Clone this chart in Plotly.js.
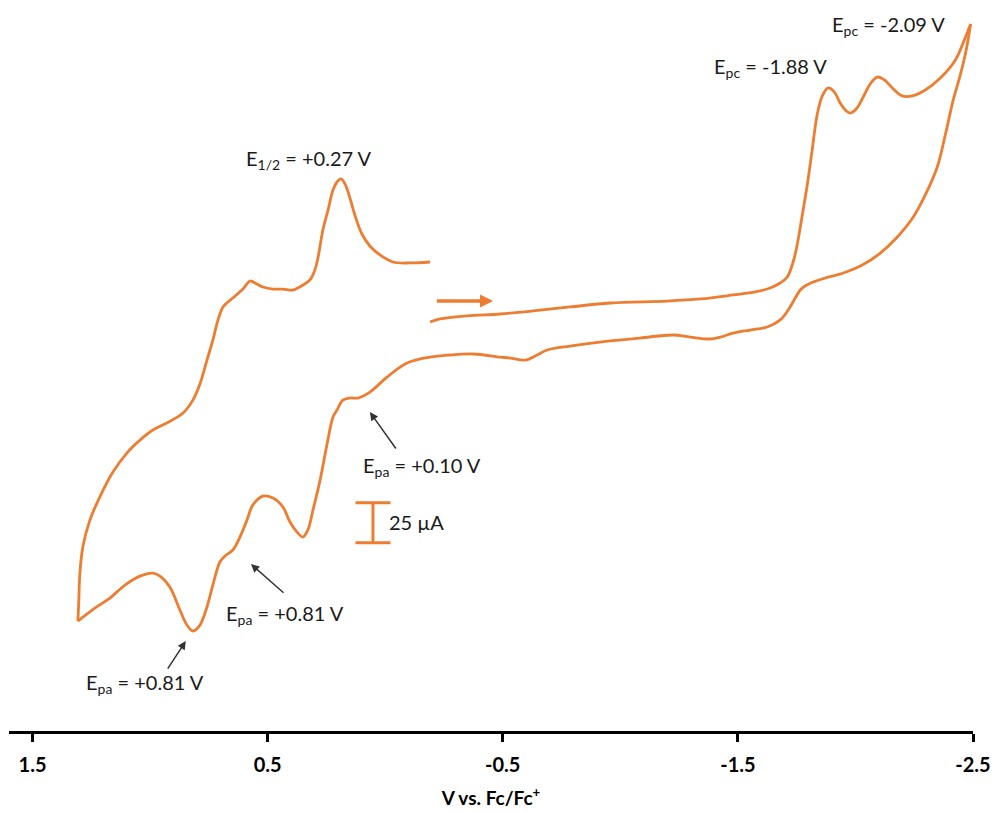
<!DOCTYPE html>
<html><head><meta charset="utf-8">
<script src="https://cdn.plot.ly/plotly-3.0.1.min.js"></script>
<style>body{margin:0;background:#fff}#chart{width:995px;height:813px}</style>
</head><body><div id="chart"></div>
<script>
// Potential (V vs. Fc/Fc+) and current (µA, arbitrary zero)
const forwardV = [-0.191,-0.233,-0.348,-0.489,-0.629,-0.786,-0.957,-1.199,-1.340,-1.480,-1.574,-1.637,-1.680,-1.710,-1.735,-1.752,-1.774,-1.795,-1.816,-1.837,-1.859,-1.884,-1.910,-1.935,-1.961,-1.978,-2.003,-2.033,-2.063,-2.093,-2.123,-2.157,-2.199,-2.242,-2.297,-2.361,-2.425,-2.463,-2.490];
const forwardI = [5.0,6.9,8.8,10.0,11.9,14.4,16.9,18.1,19.4,21.9,23.8,26.3,29.4,33.1,42.5,53.1,71.9,90.6,112.5,134.4,146.3,151.3,148.8,141.9,136.9,135.6,138.1,145.6,153.8,158.1,156.3,151.3,146.3,146.3,150.0,157.5,168.8,181.3,191.3];

const reverseV = [-2.471,-2.446,-2.416,-2.382,-2.348,-2.297,-2.246,-2.178,-2.106,-2.029,
 -1.948,-1.871,-1.820,-1.786,-1.765,-1.744,-1.714,-1.680,-1.625,-1.552,
 -1.480,-1.425,-1.382,-1.297,-1.225,-1.084,-0.914,-0.786,-0.689,-0.646,
 -0.595,-0.531,-0.489,-0.374,-0.276,-0.191,-0.093,-0.008,0.065,0.116,
 0.150,0.180,0.205,0.222,0.248,0.277,0.307,0.329,0.350,0.375,
 0.405,0.435,0.477,0.520,0.563,0.588,0.618,0.648,0.682,0.703,
 0.733,0.758,0.788,0.818,0.843,0.873,0.916,0.958,0.988,1.043,
 1.107,1.171,1.235,1.307];
const reverseI = [175.0,159.4,143.8,121.9,101.9,84.4,70.6,58.1,48.1,40.6,
 35.6,32.5,30.0,27.5,25.0,20.0,12.5,6.3,1.9,0.0,
 -1.9,-4.4,-5.6,-4.4,-3.1,-5.0,-7.5,-10.0,-12.5,-15.6,
 -18.8,-17.5,-16.9,-15.0,-15.6,-16.9,-20.6,-29.4,-38.8,-42.5,
 -42.5,-43.8,-50.0,-54.4,-71.9,-93.8,-112.5,-125.0,-129.4,-126.3,
 -120.0,-110.6,-105.0,-103.8,-109.4,-118.8,-129.4,-137.5,-141.3,-145.0,
 -159.4,-173.1,-184.4,-188.1,-184.4,-175.0,-160.6,-153.8,-151.9,-153.8,
 -159.4,-167.5,-173.8,-181.9];

const returnV = [1.303,1.299,1.286,1.256,1.214,1.158,1.099,1.043,0.988,0.929,
 0.860,0.818,0.788,0.758,0.733,0.711,0.690,0.669,0.648,0.605,
 0.575,0.546,0.520,0.477,0.435,0.392,0.350,0.320,0.299,0.286,
 0.265,0.243,0.222,0.205,0.188,0.171,0.150,0.129,0.099,0.065,
 0.022,-0.033,-0.106,-0.191];
const returnI = [-168.8,-153.1,-135.6,-118.8,-104.4,-88.8,-76.9,-68.8,-62.5,-58.1,
 -51.9,-43.8,-33.8,-18.8,-6.3,6.3,14.4,17.5,20.0,25.6,
 30.6,28.8,26.9,25.6,25.6,25.0,28.1,31.3,37.5,45.0,
 62.5,75.0,87.5,92.5,94.4,91.3,82.5,71.9,60.0,52.5,
 46.9,42.5,41.9,42.5];

const tickVals = [1.5, 0.5, -0.5, -1.5, -2.5];
const tickText = ['1.5', '0.5', '-0.5', '-1.5', '-2.5'];

// scale bar: 25 µA
const scaleBarV = 0.052, scaleBarBottom = -132.9, scaleBarSpan = 25, scaleBarHalfWidth = 0.0745;

const orange = '#ED7D31';
const txt = '#1a1a1a';
const last = a => a[a.length - 1];
const lineStyle = {color: orange, width: 2.8, shape: 'spline', smoothing: 1};

const traces = [
  {x: forwardV, y: forwardI, mode: 'lines', line: lineStyle, hoverinfo: 'skip'},
  {x: [last(forwardV), ...reverseV], y: [last(forwardI), ...reverseI], mode: 'lines', line: lineStyle, hoverinfo: 'skip'},
  {x: [last(reverseV), ...returnV], y: [last(reverseI), ...returnI], mode: 'lines', line: lineStyle, hoverinfo: 'skip'}
];

const lblFont = {family: 'Lato', size: 20, color: txt};
function label(text, x, y, xanchor) {
  return {text, x, y, xref: 'x', yref: 'y', showarrow: false, font: lblFont, xanchor: xanchor || 'center', yanchor: 'middle'};
}
function pointer(x, y, ax, ay) {
  return {text: '', x, y, ax, ay, xref: 'x', yref: 'y', axref: 'x', ayref: 'y', showarrow: true,
          arrowhead: 2, arrowsize: 1.1, arrowwidth: 1.5, arrowcolor: '#333', standoff: 0, startstandoff: 0};
}

const annotations = [
  label('E<sub>1/2</sub> = +0.27 V', 0.325, 106.3),
  label('E<sub>pa</sub> = +0.10 V', -0.157, -85.6),
  label('E<sub>pa</sub> = +0.81 V', 0.426, -178.1),
  label('E<sub>pa</sub> = +0.81 V', 1.022, -220.6),
  label('E<sub>pc</sub> = -1.88 V', -1.637, 163.8),
  label('E<sub>pc</sub> = -2.09 V', -2.140, 190.6),
  label('25 µA', -0.008, -120.0, 'left'),
  pointer(0.065, -51.3, -0.050, -75.0),
  pointer(0.571, -146.3, 0.426, -165.0),
  pointer(0.848, -194.4, 0.929, -212.5),
  {text: '', x: -0.459, y: 18.1, ax: -0.213, ay: 18.1, xref: 'x', yref: 'y', axref: 'x', ayref: 'y',
   showarrow: true, arrowhead: 2, arrowsize: 0.75, arrowwidth: 3.5, arrowcolor: orange, standoff: 0}
];

const barLine = {color: orange, width: 3};
const shapes = [
  {type: 'line', xref: 'x', yref: 'y', x0: scaleBarV, x1: scaleBarV, y0: scaleBarBottom, y1: scaleBarBottom + scaleBarSpan, line: barLine},
  {type: 'line', xref: 'x', yref: 'y', x0: scaleBarV + scaleBarHalfWidth, x1: scaleBarV - scaleBarHalfWidth, y0: scaleBarBottom, y1: scaleBarBottom, line: barLine},
  {type: 'line', xref: 'x', yref: 'y', x0: scaleBarV + scaleBarHalfWidth, x1: scaleBarV - scaleBarHalfWidth, y0: scaleBarBottom + scaleBarSpan, y1: scaleBarBottom + scaleBarSpan, line: barLine}
];

const layout = {
  width: 995, height: 813,
  margin: {l: 9, r: 22, t: 10, b: 82},
  paper_bgcolor: '#fff', plot_bgcolor: '#fff',
  showlegend: false,
  xaxis: {
    range: [1.6, -2.5], showgrid: false, zeroline: false,
    showline: true, linewidth: 3, linecolor: '#000',
    ticks: 'outside', ticklen: 8, tickwidth: 3, tickcolor: '#000',
    ticklabelstandoff: 6,
    tickvals: tickVals, ticktext: tickText,
    tickfont: {family: 'Lato', size: 20, color: '#000', weight: 700},
    title: {text: 'V vs. Fc/Fc<sup>+</sup>', font: {family: 'Lato', size: 19, color: '#000', weight: 700}, standoff: 17}
  },
  yaxis: {range: [-250.6, 200], visible: false, fixedrange: true},
  annotations, shapes
};

Plotly.newPlot('chart', traces, layout, {staticPlot: true, displayModeBar: false});
</script></body></html>
